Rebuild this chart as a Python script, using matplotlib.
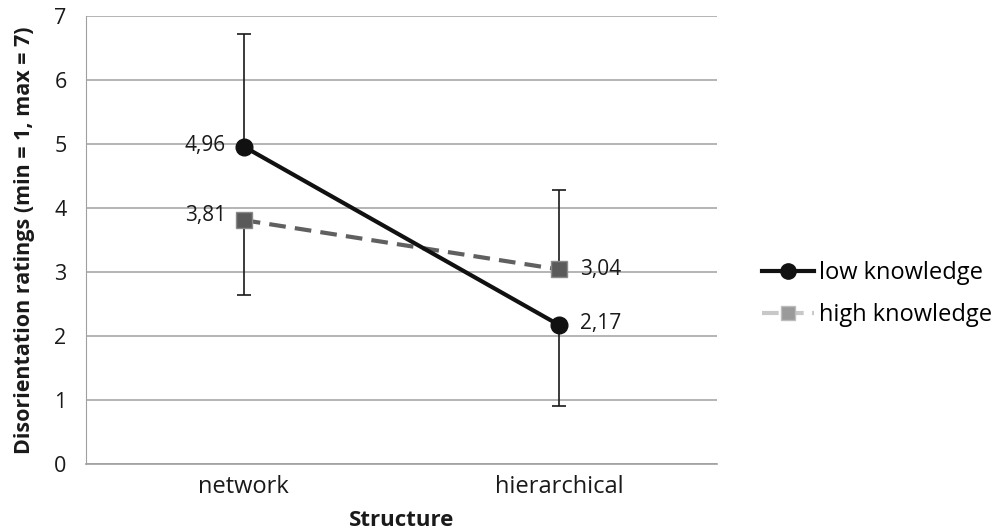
import matplotlib.pyplot as plt
from matplotlib.lines import Line2D
import numpy as np

plt.rcParams['font.family'] = ['Open Sans', 'DejaVu Sans']

categories = ['network', 'hierarchical']
low_knowledge = [4.96, 2.17]
high_knowledge = [3.81, 3.04]
# error bars only drawn outward (as in the original figure)
low_err_lower = [0, 1.26]
low_err_upper = [1.76, 0]
high_err_lower = [1.17, 0]
high_err_upper = [0, 1.24]
labels_low = ['4,96', '2,17']
labels_high = ['3,81', '3,04']

fig = plt.figure(figsize=(9.97, 5.30), dpi=100)
ax = fig.add_axes([86 / 997, 1 - 464 / 530, (717 - 86) / 997, (464 - 16) / 530])

x = np.arange(len(categories))

ax.errorbar(x, high_knowledge, yerr=[high_err_lower, high_err_upper], fmt='none',
            ecolor='#1a1a1a', elinewidth=1.2, capsize=5, capthick=1.2, zorder=3)
ax.errorbar(x, low_knowledge, yerr=[low_err_lower, low_err_upper], fmt='none',
            ecolor='#1a1a1a', elinewidth=1.2, capsize=5, capthick=1.2, zorder=3)

ax.plot(x, high_knowledge, color='#606060', lw=3, dashes=(4, 2.2), marker='s',
        markersize=11, markerfacecolor='#5a5a5a', markeredgecolor='#8a8a8a',
        markeredgewidth=1, zorder=4)
ax.plot(x, low_knowledge, color='#111111', lw=3, marker='o', markersize=12,
        markerfacecolor='#111111', markeredgecolor='#111111', zorder=5)

# data labels
lab_kw = dict(textcoords='offset points', va='center', fontsize=15, color='#1a1a1a')
ax.annotate(labels_low[0], (x[0], low_knowledge[0]), xytext=(-13, 1), ha='right', **lab_kw)
ax.annotate(labels_high[0], (x[0], high_knowledge[0]), xytext=(-13, 3), ha='right', **lab_kw)
ax.annotate(labels_low[1], (x[1], low_knowledge[1]), xytext=(15, 1), ha='left', **lab_kw)
ax.annotate(labels_high[1], (x[1], high_knowledge[1]), xytext=(15, 0), ha='left', **lab_kw)

ax.set_xlim(-0.5, 1.5)
ax.set_ylim(0, 7)
ax.set_yticks(range(0, 8))
ax.set_xticks(x)
ax.set_xticklabels(categories, fontsize=17, color='#1a1a1a')
ax.tick_params(axis='y', labelsize=15.5, length=0, pad=14, labelcolor='#1a1a1a')
ax.tick_params(axis='x', length=0, pad=8)
ax.grid(axis='y', color='#a8a8a8', lw=1.2)
ax.set_axisbelow(True)
for side in ['top', 'right']:
    ax.spines[side].set_visible(False)
ax.spines['left'].set_color('#a0a0a0')
ax.spines['bottom'].set_color('#a0a0a0')
ax.spines['bottom'].set_linewidth(1.2)

ax.set_xlabel('Structure', fontsize=16, fontweight='bold', labelpad=8, color='#1a1a1a')
ax.set_ylabel('Disorientation ratings (min = 1, max = 7)', fontsize=15.5, fontweight='bold',
              labelpad=14, color='#1a1a1a')

handles = [
    Line2D([0], [0], color='#111111', lw=3, marker='o', markersize=11,
           markerfacecolor='#111111', markeredgecolor='#111111'),
    Line2D([0], [0], color='#c8c8c8', lw=3, dashes=(4, 2), marker='s', markersize=10,
           markerfacecolor='#9a9a9a', markeredgecolor='#bdbdbd'),
]
fig.legend(handles, ['low knowledge', 'high knowledge'], loc='center left',
           bbox_to_anchor=(753 / 997, 1 - 294 / 530), frameon=False, fontsize=17,
           handlelength=2.2, handletextpad=0.2, labelspacing=0.78, borderaxespad=0)

fig.savefig('out.png', dpi=100)
